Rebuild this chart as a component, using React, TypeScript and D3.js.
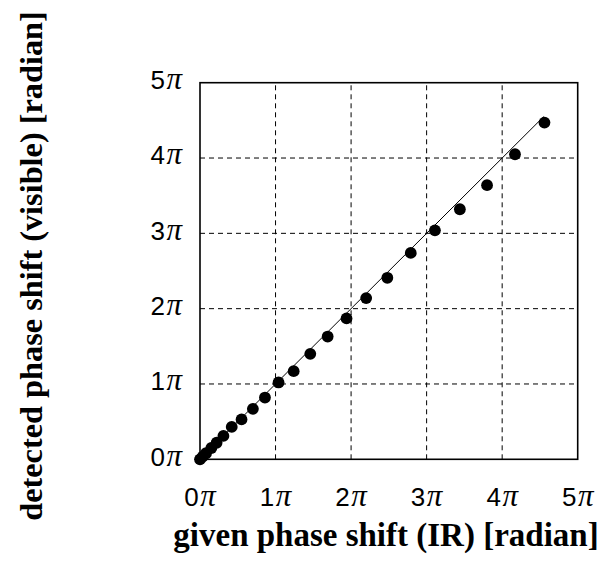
import React from 'react';
import * as d3 from 'd3';

// phase values in units of pi
const givenPhase = [0, 0.035, 0.08, 0.15, 0.22, 0.31, 0.42, 0.55, 0.7, 0.86, 1.04, 1.24, 1.46, 1.69, 1.94, 2.2, 2.48, 2.79, 3.11, 3.44, 3.8, 4.17, 4.56];
const detectedPhase = [0, 0.035, 0.08, 0.15, 0.22, 0.31, 0.43, 0.53, 0.67, 0.82, 1.02, 1.17, 1.4, 1.63, 1.87, 2.14, 2.41, 2.74, 3.04, 3.32, 3.64, 4.05, 4.47];
const idealLine = [0, 4.55];
const tickValues = [0, 1, 2, 3, 4, 5];

const width = 604;
const height = 569;
const margin = { top: 82.7, right: 26.3, bottom: 109.7, left: 200 };

export default function App() {
    const x = d3.scaleLinear().domain([0, 5]).range([margin.left, width - margin.right]);
    const y = d3.scaleLinear().domain([0, 5]).range([height - margin.bottom, margin.top]);

    const line = d3.line<number>().x((d) => x(d)).y((d) => y(d));
    const points = givenPhase.map((g, i) => ({ g, d: detectedPhase[i] }));

    const sans = 'Liberation Sans, Arial, sans-serif';
    const serif = 'Liberation Serif, Times New Roman, serif';

    const tickLabel = (v: number) => (
        <>
            <tspan>{v}</tspan>
            <tspan fontFamily={serif} fontStyle="italic" fontSize={31} dx={1.5}>π</tspan>
        </>
    );

    return (
        <svg width={width} height={height} style={{ position: 'absolute', left: 0, top: 0, background: '#fff' }}>
            {/* grid */}
            {tickValues.slice(1, -1).map((t) => (
                <g key={'g' + t}>
                    <line x1={x(t)} x2={x(t)} y1={y(0)} y2={y(5)} stroke="#000" strokeWidth={1} strokeDasharray="5,4" />
                    <line x1={x(0)} x2={x(5)} y1={y(t)} y2={y(t)} stroke="#000" strokeWidth={1} strokeDasharray="5,4" />
                </g>
            ))}

            {/* frame */}
            <rect x={x(0)} y={y(5)} width={x(5) - x(0)} height={y(0) - y(5)} fill="none" stroke="#000" strokeWidth={1.6} />

            {/* y = x reference line */}
            <path d={line(idealLine) ?? ''} fill="none" stroke="#000" strokeWidth={1} />

            {/* data points */}
            {points.map((p, i) => (
                <circle key={i} cx={x(p.g)} cy={y(p.d)} r={5.9} fill="#000" />
            ))}

            {/* y tick labels */}
            {tickValues.map((t) => (
                <text key={'y' + t} x={x(0) - 18} y={y(t) + 6.3} textAnchor="end" fontFamily={sans} fontSize={26}>
                    {tickLabel(t)}
                </text>
            ))}

            {/* x tick labels */}
            {tickValues.map((t) => (
                <text key={'x' + t} x={x(t)} y={y(0) + 47} textAnchor="middle" fontFamily={sans} fontSize={26}>
                    {tickLabel(t)}
                </text>
            ))}

            {/* axis titles */}
            <text x={386} y={546} textAnchor="middle" fontFamily={serif} fontWeight="bold" fontSize={33}>
                given phase shift (IR) [radian]
            </text>
            <text transform={`translate(42,266) rotate(-90)`} textAnchor="middle" fontFamily={serif} fontWeight="bold" fontSize={32.3}>
                detected phase shift (visible) [radian]
            </text>
        </svg>
    );
}
